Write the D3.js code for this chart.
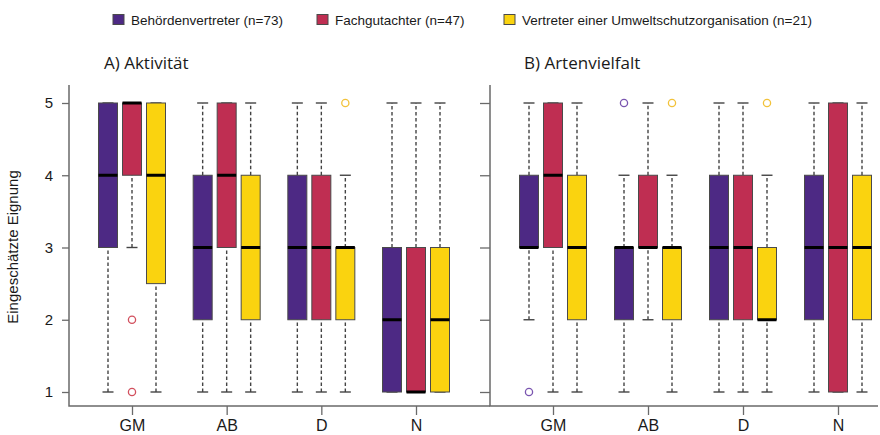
<!DOCTYPE html>
<html>
<head>
<meta charset="utf-8">
<script src="https://cdn.jsdelivr.net/npm/d3@7"></script>
<style>
  html, body { margin: 0; padding: 0; background: #fff; }
  svg { display: block; }
  text { font-family: "Liberation Sans", Arial, sans-serif; fill: #1a1a1a; }
  .title { font-family: "Open Sans", "Noto Sans", sans-serif; }
</style>
</head>
<body>
<svg id="chart" width="880" height="435"></svg>
<script>
// Categories on the x axis and the three respondent groups
const categories = ["GM", "AB", "D", "N"];
const groups = ["Behördenvertreter (n=73)", "Fachgutachter (n=47)", "Vertreter einer Umweltschutzorganisation (n=21)"];
const groupColors = ["#4d2984", "#bf2e52", "#fad30f"];
const outlierColors = ["#7a55b0", "#d2505e", "#f2c23a"];
const yTicks = [1, 2, 3, 4, 5];
const panelTitles = ["A) Aktivität", "B) Artenvielfalt"];

// Box statistics [lower whisker, Q1, median, Q3, upper whisker], per category, per group
const aktivitaetStats = [
  [[1, 3, 4, 5, 5], [3, 4, 5, 5, 5], [1, 2.5, 4, 5, 5]],   // GM
  [[1, 2, 3, 4, 5], [1, 3, 4, 5, 5], [1, 2, 3, 4, 5]],     // AB
  [[1, 2, 3, 4, 5], [1, 2, 3, 4, 5], [1, 2, 3, 3, 4]],     // D
  [[1, 1, 2, 3, 5], [1, 1, 1, 3, 5], [1, 1, 2, 3, 5]]      // N
];
const artenvielfaltStats = [
  [[2, 3, 3, 4, 5], [1, 3, 4, 5, 5], [1, 2, 3, 4, 5]],     // GM
  [[1, 2, 3, 3, 4], [2, 3, 3, 4, 5], [1, 2, 3, 3, 4]],     // AB
  [[1, 2, 3, 4, 5], [1, 2, 3, 4, 5], [1, 2, 2, 3, 4]],     // D
  [[1, 2, 3, 4, 5], [1, 1, 3, 5, 5], [1, 2, 3, 4, 5]]      // N
];

// Outliers: [category, group index, value]
const aktivitaetOutliers = [["GM", 1, 2], ["GM", 1, 1], ["D", 2, 5]];
const artenvielfaltOutliers = [["GM", 0, 1], ["AB", 0, 5], ["AB", 2, 5], ["D", 2, 5]];

const svg = d3.select("#chart");

const y = d3.scaleLinear().domain([1, 5]).range([392, 103]);
const inner = d3.scalePoint().domain(d3.range(groups.length)).range([-24, 24]);
const boxW = 19;
const axisTop = 85, axisBottom = 406;

const panels = [
  { title: panelTitles[0], stats: aktivitaetStats, outliers: aktivitaetOutliers,
    x: d3.scalePoint().domain(categories).range([132, 416]), left: 69, right: 490, labels: true, titleX: 104 },
  { title: panelTitles[1], stats: artenvielfaltStats, outliers: artenvielfaltOutliers,
    x: d3.scalePoint().domain(categories).range([553, 838]), left: 490, right: 878, labels: false, titleX: 524 }
];

panels.forEach(p => {
  const g = svg.append("g");

  // L-shaped frame
  g.append("path")
    .attr("d", `M${p.left},${axisTop}V${axisBottom}H${p.right}`)
    .attr("fill", "none").attr("stroke", "#6a6a6a").attr("stroke-width", 1.5);

  // y axis ticks
  const ya = g.append("g").attr("transform", `translate(${p.left},0)`)
    .call(d3.axisLeft(y).tickValues(yTicks).tickSize(p.labels ? 7 : 10).tickPadding(p.labels ? 9 : 3)
      .tickFormat(p.labels ? d3.format("d") : () => ""));
  ya.select(".domain").remove();
  ya.selectAll(".tick line").attr("stroke", "#6a6a6a").attr("stroke-width", 1.3);
  ya.selectAll(".tick text").style("font-size", "15px").attr("fill", "#1a1a1a");

  // x axis ticks and category labels
  const xa = g.append("g").attr("transform", `translate(0,${axisBottom})`)
    .call(d3.axisBottom(p.x).tickSize(9).tickPadding(5));
  xa.select(".domain").remove();
  xa.selectAll(".tick line").attr("stroke", "#6a6a6a").attr("stroke-width", 1.3);
  xa.selectAll(".tick text").style("font-size", "16px").attr("fill", "#1a1a1a");

  // panel title
  g.append("text").attr("class", "title")
    .attr("x", p.titleX).attr("y", 69)
    .style("font-size", "17px").text(p.title);

  // boxes
  p.stats.forEach((catStats, ci) => {
    const cx0 = p.x(categories[ci]);
    catStats.forEach((s, gi) => {
      const [lo, q1, med, q3, hi] = s;
      const cx = cx0 + inner(gi);
      const bg = g.append("g");
      // whiskers (dashed)
      [[lo, q1], [q3, hi]].forEach(([a, b]) => {
        if (a !== b) {
          bg.append("line")
            .attr("x1", cx).attr("x2", cx).attr("y1", y(a)).attr("y2", y(b))
            .attr("stroke", "#444").attr("stroke-width", 1.4)
            .attr("stroke-dasharray", "3.5,2.5");
        }
      });
      // staples
      [lo, hi].forEach(v => {
        bg.append("line")
          .attr("x1", cx - 5.5).attr("x2", cx + 5.5).attr("y1", y(v)).attr("y2", y(v))
          .attr("stroke", "#444").attr("stroke-width", 1.4);
      });
      // box
      bg.append("rect")
        .attr("x", cx - boxW / 2).attr("y", y(q3))
        .attr("width", boxW).attr("height", y(q1) - y(q3))
        .attr("fill", groupColors[gi]).attr("stroke", "#4a4a4a").attr("stroke-width", 1);
      // median
      bg.append("line")
        .attr("x1", cx - boxW / 2).attr("x2", cx + boxW / 2).attr("y1", y(med)).attr("y2", y(med))
        .attr("stroke", "#000").attr("stroke-width", 3);
    });
  });

  // outliers
  g.selectAll("circle.out").data(p.outliers).join("circle")
    .attr("class", "out")
    .attr("cx", d => p.x(d[0]) + inner(d[1]))
    .attr("cy", d => y(d[2]))
    .attr("r", 3.6)
    .attr("fill", "none")
    .attr("stroke", d => outlierColors[d[1]])
    .attr("stroke-width", 1.3);
});

// y axis label
svg.append("text")
  .attr("transform", "translate(18,247) rotate(-90)")
  .attr("text-anchor", "middle")
  .style("font-size", "15px")
  .text("Eingeschätzte Eignung");

// legend
const legendX = [113, 317, 504];
const legend = svg.append("g");
groups.forEach((name, i) => {
  legend.append("rect")
    .attr("x", legendX[i]).attr("y", 14.5).attr("width", 11).attr("height", 10)
    .attr("fill", groupColors[i]).attr("stroke", "#4a4a4a").attr("stroke-width", 1);
  legend.append("text")
    .attr("x", legendX[i] + 18).attr("y", 25)
    .style("font-size", "13.5px")
    .text(name);
});
</script>
</body>
</html>
